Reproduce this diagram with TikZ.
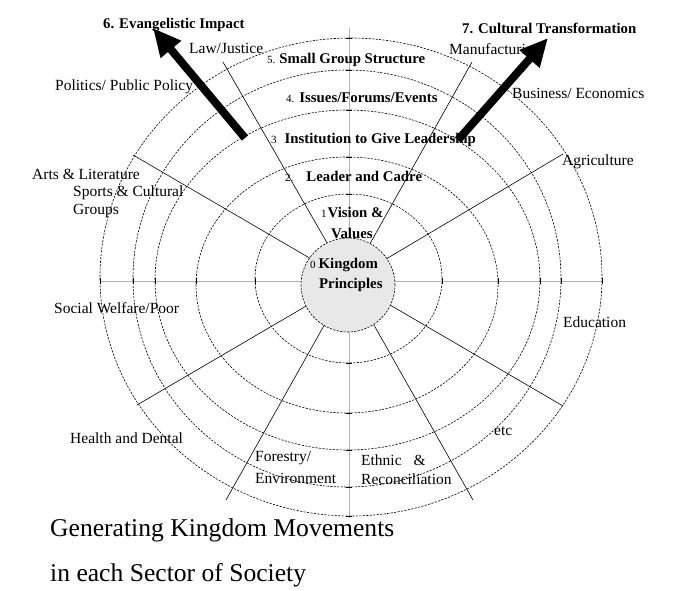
\documentclass[tikz,border=0pt]{standalone}
\usepackage{fontspec}
\setmainfont{Liberation Serif}
\usetikzlibrary{arrows.meta}
\begin{document}
\begin{tikzpicture}[x=1pt,y=-1pt,
  ring/.style={draw=black, line width=0.6pt, dash pattern=on 2.2pt off 1.3pt},
  spoke/.style={draw=black, line width=0.6pt},
  axisline/.style={draw=black!30, line width=0.6pt},
  tickmark/.style={draw=black, line width=0.6pt},
  lbl/.style={anchor=west, inner sep=0pt, font=\fontsize{15.5}{17}\selectfont},
  blbl/.style={anchor=west, inner sep=0pt, font=\fontsize{14.8}{17}\selectfont\bfseries},
  ttl/.style={anchor=west, inner sep=0pt, font=\fontsize{25.6}{28}\selectfont},
  bigarrow/.style={draw=black, line width=8pt, -{Triangle[length=28pt,width=25pt]}},
]
\newcommand{\smallnum}[1]{{\fontsize{11}{12}\selectfont\mdseries #1}}
\useasboundingbox (0,0) rectangle (681,590);
\fill[white] (0,0) rectangle (681,590);

% axes
\coordinate (c) at (349,281);
\coordinate (axL) at (100,281);
\coordinate (axR) at (602,281);
\coordinate (axT) at (349,28);
\coordinate (axB) at (349,518);
\draw[axisline] (axL) -- (axR);
\draw[axisline] (axT) -- (axB);
\foreach \x in {100,133,155,196,255,442,498,540,561,602}
  \draw[tickmark] (\x,278) -- (\x,284);
\foreach \y in {38,70,110,157,194,363,413,450,487,516}
  \draw[tickmark] (346,\y) -- (352,\y);

% rings
\draw[ring] (348.5,278.5) ellipse [x radius=93.5, y radius=84.5];
\draw[ring] (347,285) ellipse [x radius=151, y radius=128];
\draw[ring] (347.5,280) ellipse [x radius=192.5, y radius=170];
\draw[ring] (347,278.5) ellipse [x radius=214, y radius=208.5];
\draw[ring] (351,277) ellipse [x radius=251, y radius=239];

% spokes
\coordinate (sLaw) at (223,62);
\coordinate (sArts) at (133,155);
\coordinate (sMan) at (472,62);
\coordinate (sAgr) at (563,154);
\coordinate (sSoc) at (137,405);
\coordinate (sFor) at (226,500);
\coordinate (sEth) at (473,500);
\coordinate (sEdu) at (563,406);
\foreach \s in {sLaw,sArts,sMan,sAgr,sSoc,sFor,sEth,sEdu}
  \draw[spoke] (c) -- (\s);

% core
\node[circle, ring, fill=black!9, minimum size=94pt, inner sep=0pt] (core) at (348,285) {};

% ring labels
\node[blbl] (l0a) at (310,265) {\smallnum{0}\hspace{3pt}Kingdom};
\node[blbl] (l0b) at (319,285) {Principles};
\node[blbl] (l1a) at (321,212) {\smallnum{1}\hspace{1pt}Vision \&};
\node[blbl] (l1b) at (331,233) {Values};
\node[blbl] (l2) at (285,176) {\smallnum{2.}\hspace{13pt}Leader and Cadre};
\node[blbl] (l3) at (271,140) {\smallnum{3}\hspace{8pt}Institution to Give Leadership};
\node[blbl] (l4) at (286,98) {\smallnum{4.}\hspace{5pt}Issues/Forums/Events};
\node[blbl] (l5) at (267,60) {\smallnum{5.}\hspace{4pt}Small Group Structure};

% sector labels
\node[lbl] (tLaw) at (189,48) {Law/Justice};
\node[lbl] (tMan) at (449,51) {Manufacturing};
\node[lbl] (tPol) at (55,87) {Politics/ Public Policy};
\node[lbl] (tBus) at (512,93) {Business/ Economics};
\node[lbl] (tArt) at (32,174) {Arts \& Literature};
\node[lbl] (tSpo) at (73,193) {Sports \& Cultural};
\node[lbl] (tGro) at (73,211) {Groups};
\node[lbl] (tAgr) at (562,162) {Agriculture};
\node[lbl] (tSoc) at (54,308) {Social Welfare/Poor};
\node[lbl] (tEdu) at (563,322) {Education};
\node[lbl] (tHea) at (70,438) {Health and Dental};
\node[lbl] (tEtc) at (494,431) {etc};
\node[lbl] (tFo1) at (255,458) {Forestry/};
\node[lbl] (tFo2) at (255,478) {Environment};
\node[lbl] (tEt1) at (361,460) {Ethnic\hspace{12pt}\&};
\node[lbl] (tEt2) at (361,479) {Reconciliation};

% outcome labels
\node[blbl] (o6) at (103,25) {6. Evangelistic Impact};
\node[blbl] (o7) at (462,28) {7. Cultural Transformation};

% arrows
\coordinate (a6t) at (245,138);
\coordinate (a6h) at (153,28);
\coordinate (a7t) at (458,140);
\coordinate (a7h) at (548,38);
\draw[bigarrow] (a6t) -- (a6h);
\draw[bigarrow] (a7t) -- (a7h);

% title
\node[ttl] (title1) at (50,530) {Generating Kingdom Movements};
\node[ttl] (title2) at (50,575) {in each Sector of Society};
\end{tikzpicture}
\end{document}
